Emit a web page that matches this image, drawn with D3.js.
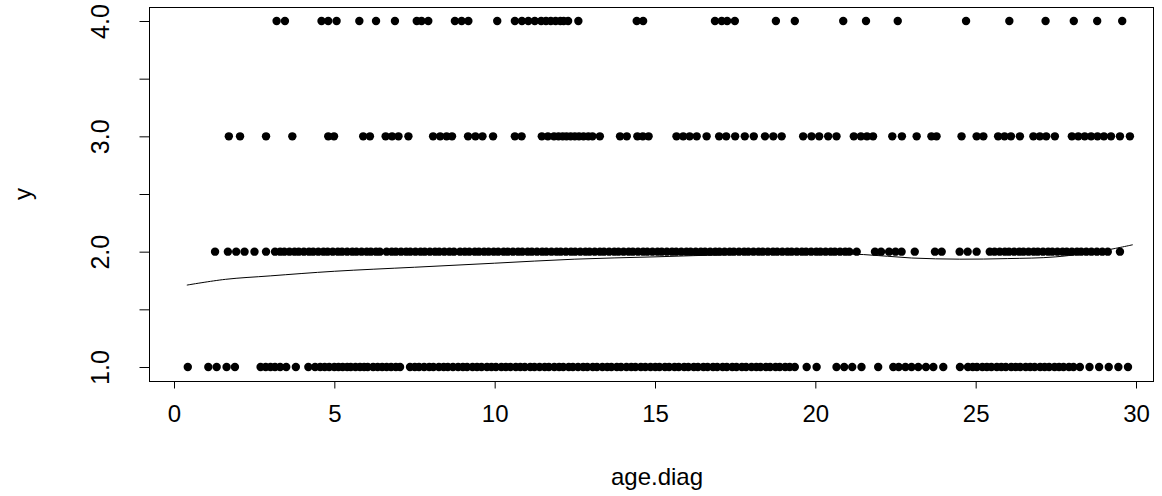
<!DOCTYPE html>
<html><head><meta charset="utf-8">
<script src="https://cdn.jsdelivr.net/npm/d3@7"></script>
<style>body{margin:0;background:#fff}svg{display:block}text{font-family:"Liberation Sans",Arial,sans-serif;fill:#000}</style>
</head><body>
<script>
// age.diag values for each y level
const ageY1 = [0.43,1.07,1.33,1.64,1.90,2.70,2.86,3.01,3.15,3.31,3.50,3.80,4.19,
4.40,4.56,4.70,4.84,5.00,5.13,5.26,5.40,5.51,5.66,5.80,5.93,6.04,6.21,6.35,6.49,6.63,6.77,6.92,7.05,
7.36,7.51,7.64,7.80,7.96,8.09,8.26,8.41,8.54,8.70,8.86,9.01,9.14,9.31,9.45,9.59,9.76,9.90,10.04,10.21,10.35,10.49,10.66,10.80,10.94,11.11,11.24,11.40,11.56,11.69,11.86,12.01,12.14,12.31,12.44,12.60,12.76,12.89,13.06,13.19,13.36,13.51,13.64,13.81,13.94,14.11,14.26,14.39,14.56,14.70,14.86,15.01,15.14,15.31,15.44,15.61,15.74,15.91,16.04,16.21,16.34,16.51,16.64,16.81,16.94,17.11,17.24,17.41,17.54,17.71,17.84,18.01,18.16,18.29,18.46,18.59,18.76,18.89,19.06,19.20,19.36,
19.73,20.04,20.66,20.90,21.15,21.44,21.96,22.43,22.60,22.81,23.00,23.21,23.45,23.68,23.99,24.51,
24.76,24.91,25.04,25.21,25.35,25.49,25.66,25.80,25.94,26.11,26.25,26.39,26.56,26.70,26.84,27.01,27.15,27.29,27.46,27.60,27.74,27.91,28.05,28.25,28.55,28.85,29.15,29.45,29.75];
const ageY2 = [1.28,1.68,1.94,2.20,2.51,2.87,
3.15,3.31,3.44,3.60,3.76,3.89,4.05,4.21,4.34,4.50,4.66,4.79,4.95,5.11,5.24,5.40,5.56,5.69,5.85,6.01,6.14,6.30,6.42,
6.63,6.79,6.92,7.08,7.24,7.37,7.53,7.69,7.82,7.98,8.14,8.27,8.43,8.59,8.73,8.92,
9.07,9.21,9.38,9.51,9.67,9.81,9.97,10.11,10.28,10.41,10.57,10.73,10.86,11.03,11.16,11.32,11.48,11.61,11.77,11.93,12.06,12.22,12.38,12.51,12.67,12.83,12.96,13.12,13.28,13.41,13.57,13.73,13.86,14.02,14.18,14.31,14.47,14.63,14.76,14.92,15.08,15.21,15.37,15.53,15.66,15.82,15.98,16.11,16.27,16.43,16.56,16.72,16.88,17.01,17.17,17.33,17.46,17.62,17.78,17.91,18.07,18.23,18.36,18.52,18.68,18.81,18.97,19.13,19.26,19.42,19.58,19.71,19.87,20.03,20.16,20.32,20.48,20.61,20.77,20.93,21.06,21.29,
21.86,22.05,22.30,22.50,22.69,23.10,23.73,23.94,24.50,24.75,25.03,
25.44,25.59,25.75,25.91,26.04,26.20,26.36,26.49,26.65,26.81,26.94,27.10,27.26,27.39,27.55,27.71,27.84,28.00,28.16,28.29,28.45,28.61,28.78,28.95,29.12,29.50];
const ageY3 = [1.71,2.06,2.87,3.69,4.81,4.99,5.90,6.11,6.60,6.80,7.00,7.31,8.08,8.30,8.50,8.67,9.17,9.40,9.62,9.95,10.63,10.84,
11.47,11.66,11.85,11.99,12.12,12.24,12.37,12.50,12.63,12.77,12.92,13.05,13.28,13.91,14.12,14.45,14.62,14.80,
15.67,15.88,16.08,16.30,16.61,17.00,17.22,17.50,17.80,18.08,18.43,18.69,18.95,19.62,19.88,20.12,20.40,20.66,
21.20,21.42,21.61,21.80,22.40,22.70,23.16,23.62,23.78,24.56,25.03,25.24,25.70,25.90,26.10,26.38,26.80,27.00,27.20,27.47,
28.00,28.20,28.40,28.60,28.80,29.00,29.22,29.50,29.81];
const ageY4 = [3.20,3.46,4.60,4.81,5.07,5.78,6.30,6.89,7.57,7.72,7.93,8.76,8.97,9.18,10.08,
10.63,10.85,11.05,11.25,11.45,11.60,11.75,11.90,12.05,12.15,12.29,12.61,14.43,14.63,
16.87,17.08,17.25,17.49,18.77,19.36,20.87,21.58,22.57,24.70,26.05,27.18,28.06,28.79,29.57];
const yLevels = [1,2,3,4];
// smooth (lowess) curve
const smoothX = [0.4,1.6,3,5,7.5,10,12.5,15,17.5,20,21.5,23,24.5,26,27.5,29,29.9];
const smoothY = [1.71,1.76,1.79,1.83,1.865,1.90,1.935,1.955,1.975,1.98,1.975,1.945,1.935,1.94,1.955,2.01,2.06];
const xTicks = [0,5,10,15,20,25,30];
const yTicks = [1,1.5,2,2.5,3,3.5,4];
const yTickLabels = ["1.0","","2.0","","3.0","","4.0"];

const W=1162,H=496;
const svg=d3.select("body").append("svg").attr("width",W).attr("height",H);
const x=d3.scaleLinear().domain([0,30]).range([174,1136]);
const y=d3.scaleLinear().domain([1,4]).range([367,21]);
const boxL=149, boxR=1153, boxT=7, boxB=381;

svg.append("rect").attr("x",boxL+0.5).attr("y",boxT+0.5).attr("width",boxR-boxL).attr("height",boxB-boxT)
  .attr("fill","none").attr("stroke","#000").attr("stroke-width",1);

// x axis
const xa=svg.append("g").attr("transform",`translate(0,${boxB+0.5})`)
  .call(d3.axisBottom(x).tickValues(xTicks).tickSize(7).tickPadding(16).tickFormat(d3.format("d")));
xa.select(".domain").attr("d",`M${x(0)},0H${x(30)}`);
xa.selectAll("text").attr("font-size",24).attr("font-family","Liberation Sans, Arial, sans-serif").attr("fill","#000");

// y axis
const ya=svg.append("g").attr("transform",`translate(${boxL+0.5},0)`)
  .call(d3.axisLeft(y).tickValues(yTicks).tickSize(10).tickFormat((d,i)=>yTickLabels[i]));
ya.select(".domain").attr("d",`M0,${y(1)}V${y(4)}`);
ya.selectAll("text").attr("font-size",25).attr("font-family","Liberation Sans, Arial, sans-serif").attr("fill","#000")
  .attr("text-anchor","middle").attr("dy",null).attr("x",null)
  .attr("transform",d=>`translate(-49,0) rotate(-90) translate(0,8)`);

// axis titles
svg.append("text").attr("x",(boxL+boxR)/2+6).attr("y",485).attr("text-anchor","middle").attr("font-size",24).text("age.diag");
svg.append("text").attr("transform",`translate(31,${(boxT+boxB)/2}) rotate(-90)`).attr("text-anchor","middle").attr("font-size",24).text("y");

// points
const series=[ageY1,ageY2,ageY3,ageY4];
const pts=[];
series.forEach((arr,i)=>arr.forEach(v=>pts.push({x:v,y:yLevels[i]})));
svg.append("g").selectAll("circle").data(pts).join("circle")
  .attr("cx",d=>x(d.x)).attr("cy",d=>y(d.y)).attr("r",4.2).attr("fill","#000");

// smooth line
const line=d3.line().x(d=>x(d[0])).y(d=>y(d[1])).curve(d3.curveCatmullRom);
svg.append("path").datum(smoothX.map((v,i)=>[v,smoothY[i]])).attr("d",line)
  .attr("fill","none").attr("stroke","#000").attr("stroke-width",1);
</script>
</body></html>
